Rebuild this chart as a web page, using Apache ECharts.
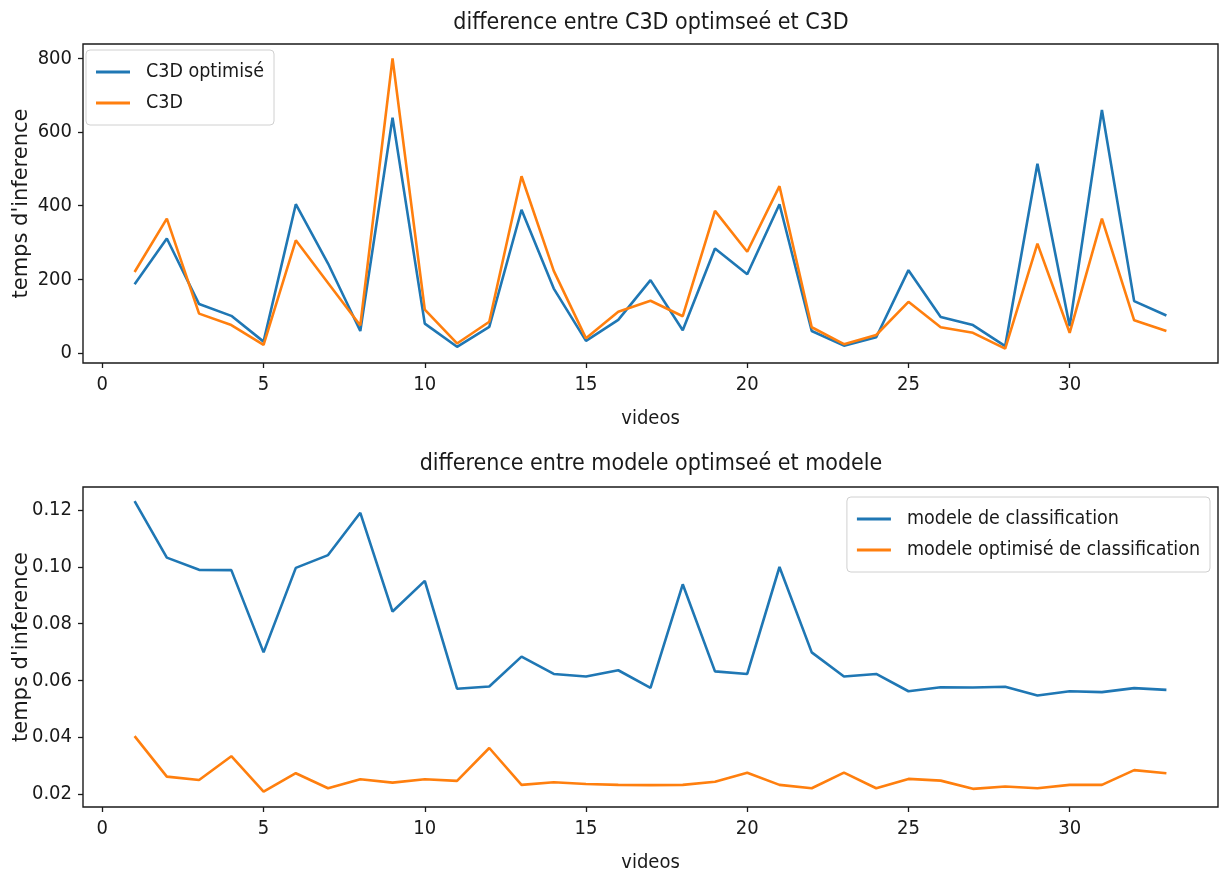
<!DOCTYPE html>
<html>
<head>
<meta charset="utf-8">
<script src="https://cdn.jsdelivr.net/npm/echarts@6/dist/echarts.min.js"></script>
<style>
html,body{margin:0;padding:0;background:#fff;}
#chart{width:1220px;height:874px;}
</style>
</head>
<body>
<div id="chart"></div>
<script>
const videos = [1,2,3,4,5,6,7,8,9,10,11,12,13,14,15,16,17,18,19,20,21,22,23,24,25,26,27,28,29,30,31,32,33];

const c3dOptimise = [187,311,133,101,31,404,243,60,639,80,17,71,389,175,33,90,198,62,284,214,404,60,20,43,225,98,76,19,514,73,660,141,102];
const c3d = [220,365,107,76,22,306,190,75,800,118,26,85,480,223,40,112,142,100,386,275,453,70,24,49,139,70,55,12,297,55,365,89,60];

const modeleClassif = [0.1232,0.1033,0.0990,0.0989,0.0699,0.0997,0.1042,0.1191,0.0843,0.0951,0.0571,0.0579,0.0684,0.0623,0.0614,0.0636,0.0574,0.0939,0.0632,0.0623,0.1000,0.0699,0.0614,0.0623,0.0562,0.0576,0.0575,0.0578,0.0547,0.0562,0.0559,0.0573,0.0567];
const modeleOptimise = [0.0404,0.0261,0.0249,0.0333,0.0208,0.0273,0.0220,0.0252,0.0240,0.0252,0.0246,0.0362,0.0232,0.0241,0.0235,0.0232,0.0231,0.0232,0.0243,0.0275,0.0232,0.0220,0.0275,0.0220,0.0253,0.0247,0.0218,0.0226,0.0220,0.0232,0.0232,0.0284,0.0273];

const xTicks = [0,5,10,15,20,25,30];
const yTicksTop = [0,200,400,600,800];
const yTicksBottom = [0.02,0.04,0.06,0.08,0.10,0.12];

const titles = ["difference entre C3D optimseé et C3D", "difference entre modele optimseé et modele"];
const xLabel = "videos";
const yLabel = "temps d'inference";

const FONT = "'DejaVu Sans Condensed', 'DejaVu Sans', sans-serif";
const BLUE = '#1f77b4', ORANGE = '#ff7f0e', INK = '#1a1a1a';

const pairs = arr => videos.map((v, i) => [v, arr[i]]);

function xAxisCfg(idx) {
  return {
    gridIndex: idx, type: 'value', min: -0.6, max: 34.6,
    name: xLabel, nameLocation: 'middle', nameGap: 46,
    nameTextStyle: {fontFamily: FONT, fontSize: 20, color: INK},
    axisLine: {show: false, onZero: false},
    axisTick: {show: true, length: 5, customValues: xTicks, lineStyle: {color: INK, width: 1.3}},
    axisLabel: {customValues: xTicks, margin: 12, fontFamily: FONT, fontSize: 20, color: INK},
    splitLine: {show: false}
  };
}
function yAxisCfg(idx, min, max, ticks, fmt) {
  return {
    gridIndex: idx, type: 'value', min: min, max: max,
    name: yLabel, nameLocation: 'middle', nameGap: 51, nameRotate: 90, nameMoveOverlap: false,
    nameTextStyle: {fontFamily: 'DejaVu Sans, sans-serif', fontSize: 21, color: INK},
    axisLine: {show: false, onZero: false},
    axisTick: {show: true, length: 5, customValues: ticks, lineStyle: {color: INK, width: 1.3}},
    axisLabel: {customValues: ticks, margin: 11, fontFamily: FONT, fontSize: 20, color: INK, formatter: fmt},
    splitLine: {show: false}
  };
}
function lineSeries(name, data, color, idx) {
  return {
    name: name, type: 'line', xAxisIndex: idx, yAxisIndex: idx,
    data: pairs(data), symbol: 'none', showSymbol: false,
    lineStyle: {color: color, width: 2.6}, itemStyle: {color: color},
    animation: false
  };
}
const legendBase = {
  orient: 'vertical', icon: 'rect', itemWidth: 34, itemHeight: 3, itemGap: 11,
  backgroundColor: 'rgba(255,255,255,0.8)', borderColor: '#d0d0d0', borderWidth: 1, borderRadius: 4,
  textStyle: {fontFamily: FONT, fontSize: 19.5, color: INK, padding: [0, 0, 0, 11]}
};

const chart = echarts.init(document.getElementById('chart'), null, {renderer: 'canvas'});
chart.setOption({
  backgroundColor: '#fff',
  animation: false,
  title: [
    {text: titles[0], left: 646, top: 7, textAlign: 'center', textStyle: {fontFamily: FONT, fontSize: 23, fontWeight: 'normal', color: INK}},
    {text: titles[1], left: 646, top: 448, textAlign: 'center', textStyle: {fontFamily: FONT, fontSize: 23, fontWeight: 'normal', color: INK}}
  ],
  legend: [
    Object.assign({}, legendBase, {data: ['C3D optimisé', 'C3D'], left: 86, top: 50, padding: [12, 10, 12, 10]}),
    Object.assign({}, legendBase, {data: ['modele de classification', 'modele optimisé de classification'], right: 10, top: 497, padding: [12, 10, 12, 10]})
  ],
  grid: [
    {left: 83, right: 2, top: 44, height: 319, containLabel: false, outerBoundsMode: 'none', show: true, borderColor: INK, borderWidth: 1.4, backgroundColor: 'transparent'},
    {left: 83, right: 2, top: 487, height: 320, containLabel: false, outerBoundsMode: 'none', show: true, borderColor: INK, borderWidth: 1.4, backgroundColor: 'transparent'}
  ],
  xAxis: [xAxisCfg(0), xAxisCfg(1)],
  yAxis: [
    yAxisCfg(0, -27, 839, yTicksTop, v => String(v)),
    yAxisCfg(1, 0.0154, 0.1282, yTicksBottom, v => v.toFixed(2))
  ],
  series: [
    lineSeries('C3D optimisé', c3dOptimise, BLUE, 0),
    lineSeries('C3D', c3d, ORANGE, 0),
    lineSeries('modele de classification', modeleClassif, BLUE, 1),
    lineSeries('modele optimisé de classification', modeleOptimise, ORANGE, 1)
  ]
});
</script>
</body>
</html>
